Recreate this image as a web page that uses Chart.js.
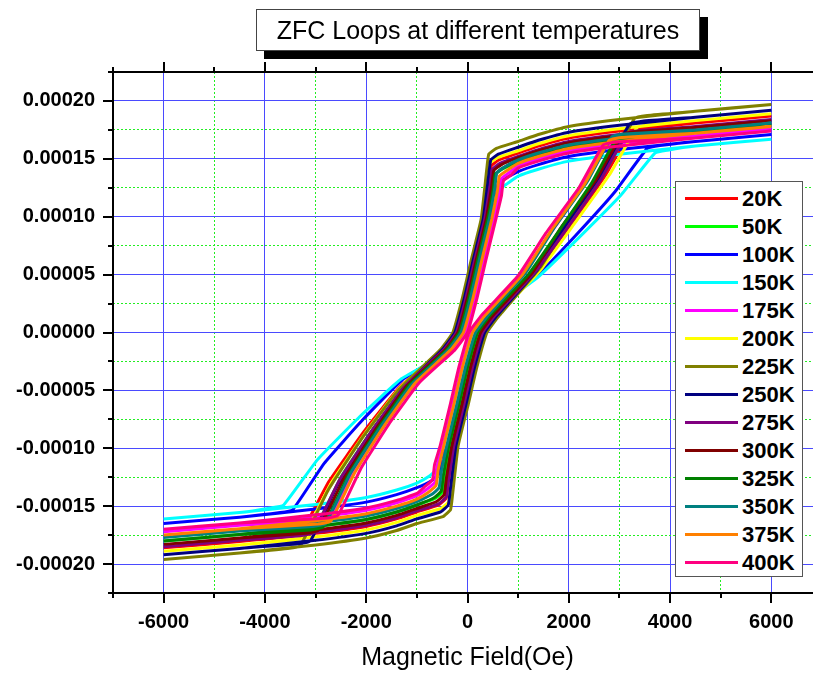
<!DOCTYPE html>
<html>
<head>
<meta charset="utf-8">
<title>ZFC Loops at different temperatures</title>
<script src="https://cdn.jsdelivr.net/npm/chart.js@4.4.1/dist/chart.umd.min.js"></script>
<style>
    html, body { margin: 0; padding: 0; background: #fff; overflow: hidden; }
    #wrap { position: relative; width: 813px; height: 673px; overflow: hidden; }
    #zfcChart { position: absolute; left: 0; top: 0; }
    #chartTitle {
        position: absolute; left: 256px; top: 9px; width: 442px; height: 40px;
        border: 1px solid #444; background: #fff; box-shadow: 8px 8px 0 #000;
        font: 25px "Liberation Sans", Arial, sans-serif; color: #000;
        text-align: center; line-height: 40px;
    }
    #chartLegend {
        position: absolute; left: 675px; top: 181px; width: 126px; height: 394px;
        border: 1px solid #555; background: #fff;
        font: bold 22px "Liberation Sans", Arial, sans-serif; color: #000;
    }
    .legend-row { position: absolute; left: 0; height: 28px; width: 126px; }
    .legend-line { position: absolute; left: 9px; top: 12px; width: 53px; height: 3px; }
    .legend-text { position: absolute; left: 66px; top: 0; line-height: 28px; }
</style>
</head>
<body>
<div id="wrap">
    <canvas id="zfcChart" width="840" height="673"></canvas>
    <div id="chartTitle">ZFC Loops at different temperatures</div>
    <div id="chartLegend"></div>
</div>
<script>
(function () {
    'use strict';

    // Temperatures (legend labels)
    var temperatures = ['20K', '50K', '100K', '150K', '175K', '200K', '225K',
        '250K', '275K', '300K', '325K', '350K', '375K', '400K'];

    // Loops: [field (Oe), moment (x1e-5 emu)]
    // first half is the branch from +6000 down to -6000, second half goes back up
    var loop20K = [[6000,18.7],[4500,18.1],[3000,17.4],[2000,16.8],[1400,16.1],[1000,15.5],[620,14.9],[470,14.4],[430,13.1],[320,9.8],[120,6.2],[-50,3.0],[-240,0],[-490,-1.5],[-1335,-4.7],[-2035,-8.5],[-2740,-12.9],[-3300,-17.4],[-3550,-17.65],[-4500,-18.05],[-6000,-18.6],
        [-4500,-18.05],[-3000,-17.35],[-2000,-16.75],[-1400,-16.1],[-1000,-15.5],[-570,-14.9],[-420,-14.3],[-380,-13.0],[-270,-9.8],[-70,-6.2],[100,-3.0],[300,0],[550,1.5],[1360,5.3],[2035,9.3],[2710,13.5],[3250,17.5],[3500,17.75],[4500,18.1],[6000,18.7]];
    var loop50K = [[6000,17.9],[4500,17.3],[3000,16.6],[2000,16.0],[1400,15.3],[1000,14.7],[680,14.1],[530,13.6],[490,12.3],[380,9.8],[180,6.2],[10,3.0],[-180,0],[-430,-1.5],[-1200,-4.5],[-1845,-8.2],[-2485,-12.4],[-3000,-16.8],[-3250,-17.05],[-4500,-17.45],[-6000,-18.0],
        [-4500,-17.45],[-3000,-16.75],[-2000,-16.15],[-1400,-15.5],[-1000,-14.9],[-630,-14.3],[-480,-13.7],[-440,-12.4],[-330,-9.8],[-130,-6.2],[40,-3.0],[240,0],[490,1.5],[1245,5.0],[1870,8.9],[2500,12.9],[3000,16.7],[3250,16.95],[4500,17.3],[6000,17.9]];
    var loop100K = [[6000,17.1],[4500,16.5],[3000,15.8],[2000,15.2],[1400,14.5],[1000,13.9],[750,13.3],[600,12.8],[560,11.5],[450,9.8],[250,6.2],[80,3.0],[-110,0],[-360,-1.5],[-1290,-4.1],[-2060,-7.5],[-2830,-11.3],[-3450,-15.3],[-3700,-15.55],[-4500,-15.95],[-6000,-16.5],
        [-4500,-15.95],[-3000,-15.25],[-2000,-14.65],[-1400,-14.0],[-1000,-13.4],[-710,-12.8],[-560,-12.2],[-520,-10.9],[-410,-9.8],[-210,-6.2],[-40,-3.0],[160,0],[410,1.5],[1350,4.8],[2140,8.4],[2920,12.2],[3550,15.9],[3800,16.15],[4500,16.5],[6000,17.1]];
    var loop150K = [[6000,16.7],[4500,16.1],[3000,15.4],[2000,14.8],[1400,14.1],[1000,13.5],[800,12.9],[650,12.4],[610,11.1],[500,9.8],[300,6.2],[130,3.0],[-60,0],[-310,-1.5],[-1305,-4.0],[-2135,-7.3],[-2965,-11.0],[-3630,-14.9],[-3880,-15.15],[-4500,-15.55],[-6000,-16.1],
        [-4500,-15.55],[-3000,-14.85],[-2000,-14.25],[-1400,-13.6],[-1000,-13.0],[-750,-12.4],[-600,-11.8],[-560,-10.5],[-450,-9.8],[-250,-6.2],[-80,-3.0],[120,0],[370,1.5],[1370,4.7],[2200,8.2],[3035,11.9],[3700,15.5],[3950,15.75],[4500,16.1],[6000,16.7]];
    var loop175K = [[6000,17.6],[4500,17.0],[3000,16.3],[2000,15.7],[1400,15.0],[1000,14.4],[820,13.8],[670,13.3],[630,12.0],[520,9.8],[320,6.2],[150,3.0],[-40,0],[-290,-1.5],[-1015,-4.3],[-1615,-7.8],[-2220,-11.8],[-2700,-16.0],[-2950,-16.25],[-4500,-16.65],[-6000,-17.2],
        [-4500,-16.65],[-3000,-15.95],[-2000,-15.35],[-1400,-14.7],[-1000,-14.1],[-790,-13.5],[-640,-12.9],[-600,-11.6],[-490,-9.8],[-290,-6.2],[-120,-3.0],[80,0],[330,1.5],[1055,4.9],[1660,8.7],[2265,12.6],[2750,16.4],[3000,16.65],[4500,17.0],[6000,17.6]];
    var loop200K = [[6000,18.9],[4500,18.3],[3000,17.6],[2000,17.0],[1400,16.3],[1000,15.7],[590,15.1],[440,14.6],[400,13.3],[290,9.8],[90,6.2],[-80,3.0],[-270,0],[-520,-1.5],[-1340,-4.8],[-2020,-8.7],[-2705,-13.1],[-3250,-17.7],[-3500,-17.95],[-4500,-18.35],[-6000,-18.9],
        [-4500,-18.35],[-3000,-17.65],[-2000,-17.05],[-1400,-16.4],[-1000,-15.8],[-520,-15.2],[-370,-14.6],[-330,-13.3],[-220,-9.8],[-20,-6.2],[150,-3.0],[350,0],[600,1.5],[1425,5.3],[2110,9.4],[2800,13.6],[3350,17.7],[3600,17.95],[4500,18.3],[6000,18.9]];
    var loop225K = [[6000,19.7],[4500,19.1],[3000,18.4],[2000,17.8],[1400,17.1],[1000,16.5],[570,15.9],[420,15.4],[380,14.1],[270,9.8],[70,6.2],[-100,3.0],[-290,0],[-540,-1.5],[-1370,-5.0],[-2060,-9.0],[-2750,-13.6],[-3300,-18.4],[-3550,-18.65],[-4500,-19.05],[-6000,-19.6],
        [-4500,-19.05],[-3000,-18.35],[-2000,-17.75],[-1400,-17.1],[-1000,-16.5],[-485,-15.9],[-335,-15.3],[-295,-14.0],[-185,-9.8],[15,-6.2],[185,-3.0],[385,0],[635,1.5],[1435,5.6],[2045,9.8],[2765,14.2],[3300,18.5],[3550,18.75],[4500,19.1],[6000,19.7]];
    var loop250K = [[6000,19.2],[4500,18.6],[3000,17.9],[2000,17.3],[1400,16.6],[1000,16.0],[610,15.4],[460,14.9],[420,13.6],[310,9.8],[110,6.2],[-60,3.0],[-250,0],[-500,-1.5],[-1280,-4.9],[-1930,-8.8],[-2580,-13.3],[-3100,-18.0],[-3350,-18.25],[-4500,-18.65],[-6000,-19.2],
        [-4500,-18.65],[-3000,-17.95],[-2000,-17.35],[-1400,-16.7],[-1000,-16.1],[-530,-15.5],[-380,-14.9],[-340,-13.6],[-230,-9.8],[-30,-6.2],[140,-3.0],[340,0],[590,1.5],[1375,5.4],[1975,9.5],[2680,13.9],[3200,18.0],[3450,18.25],[4500,18.6],[6000,19.2]];
    var loop275K = [[6000,18.4],[4500,17.8],[3000,17.1],[2000,16.5],[1400,15.8],[1000,15.2],[640,14.6],[490,14.1],[450,12.8],[340,9.8],[140,6.2],[-30,3.0],[-220,0],[-470,-1.5],[-1245,-4.7],[-1890,-8.5],[-2535,-12.8],[-3050,-17.3],[-3300,-17.55],[-4500,-17.95],[-6000,-18.5],
        [-4500,-17.95],[-3000,-17.25],[-2000,-16.65],[-1400,-16.0],[-1000,-15.4],[-570,-14.8],[-420,-14.2],[-380,-12.9],[-270,-9.8],[-70,-6.2],[100,-3.0],[300,0],[550,1.5],[1330,5.2],[1980,9.1],[2630,13.2],[3150,17.2],[3400,17.45],[4500,17.8],[6000,18.4]];
    var loop300K = [[6000,18.3],[4500,17.7],[3000,17.0],[2000,16.4],[1400,15.7],[1000,15.1],[670,14.5],[520,14.0],[480,12.7],[370,9.8],[170,6.2],[0,3.0],[-190,0],[-440,-1.5],[-1195,-4.6],[-1820,-8.4],[-2450,-12.7],[-2950,-17.1],[-3200,-17.35],[-4500,-17.75],[-6000,-18.3],
        [-4500,-17.75],[-3000,-17.05],[-2000,-16.45],[-1400,-15.8],[-1000,-15.2],[-610,-14.6],[-460,-14.0],[-420,-12.7],[-310,-9.8],[-110,-6.2],[60,-3.0],[260,0],[510,1.5],[1270,5.1],[1855,9.1],[2540,13.2],[3050,17.1],[3300,17.35],[4500,17.7],[6000,18.3]];
    var loop325K = [[6000,18.0],[4500,17.4],[3000,16.7],[2000,16.1],[1400,15.4],[1000,14.8],[700,14.2],[550,13.7],[510,12.4],[400,9.8],[200,6.2],[30,3.0],[-160,0],[-410,-1.5],[-1140,-4.5],[-1750,-8.2],[-2360,-12.4],[-2850,-16.8],[-3100,-17.05],[-4500,-17.45],[-6000,-18.0],
        [-4500,-17.45],[-3000,-16.75],[-2000,-16.15],[-1400,-15.5],[-1000,-14.9],[-670,-14.3],[-520,-13.7],[-480,-12.4],[-370,-9.8],[-170,-6.2],[0,-3.0],[200,0],[450,1.5],[1200,5.0],[1825,8.9],[2450,12.9],[2950,16.8],[3200,17.05],[4500,17.4],[6000,18.0]];
    var loop350K = [[6000,18.1],[4500,17.5],[3000,16.8],[2000,16.2],[1400,15.5],[1000,14.9],[730,14.3],[580,13.8],[540,12.5],[430,9.8],[230,6.2],[60,3.0],[-130,0],[-380,-1.5],[-1105,-4.5],[-1710,-8.1],[-2315,-12.2],[-2800,-16.5],[-3050,-16.75],[-4500,-17.15],[-6000,-17.7],
        [-4500,-17.15],[-3000,-16.45],[-2000,-15.85],[-1400,-15.2],[-1000,-14.6],[-710,-14.0],[-560,-13.4],[-520,-12.1],[-410,-9.8],[-210,-6.2],[-40,-3.0],[160,0],[410,1.5],[1140,5.1],[1705,9.0],[2360,13.0],[2850,16.9],[3100,17.15],[4500,17.5],[6000,18.1]];
    var loop375K = [[6000,17.8],[4500,17.2],[3000,16.5],[2000,15.9],[1400,15.2],[1000,14.6],[780,14.0],[630,13.5],[590,12.2],[480,9.8],[280,6.2],[110,3.0],[-80,0],[-330,-1.5],[-1040,-4.4],[-1635,-8.0],[-2225,-12.1],[-2700,-16.3],[-2950,-16.55],[-4500,-16.95],[-6000,-17.5],
        [-4500,-16.95],[-3000,-16.25],[-2000,-15.65],[-1400,-15.0],[-1000,-14.4],[-770,-13.8],[-620,-13.2],[-580,-11.9],[-470,-9.8],[-270,-6.2],[-100,-3.0],[100,0],[350,1.5],[1085,5.0],[1650,8.8],[2310,12.8],[2800,16.6],[3050,16.85],[4500,17.2],[6000,17.8]];
    var loop400K = [[6000,17.4],[4500,16.8],[3000,16.1],[2000,15.5],[1400,14.8],[1000,14.2],[860,13.6],[710,13.1],[670,11.8],[560,9.8],[360,6.2],[190,3.0],[0,0],[-250,-1.5],[-945,-4.3],[-1520,-7.7],[-2100,-11.7],[-2560,-15.8],[-2810,-16.05],[-4500,-16.45],[-6000,-17.0],
        [-4500,-16.45],[-3000,-15.75],[-2000,-15.15],[-1400,-14.5],[-1000,-13.9],[-840,-13.3],[-690,-12.7],[-650,-11.4],[-540,-9.8],[-340,-6.2],[-170,-3.0],[30,0],[280,1.5],[1000,4.9],[1550,8.6],[2200,12.5],[2680,16.2],[2930,16.45],[4500,16.8],[6000,17.4]];

    var loops = [loop20K, loop50K, loop100K, loop150K, loop175K, loop200K, loop225K,
        loop250K, loop275K, loop300K, loop325K, loop350K, loop375K, loop400K];

    // Line colours, same order as temperatures
    var lineColors = ['#ff0000', '#00ff00', '#0000ff', '#00ffff', '#ff00ff', '#ffff00', '#808000',
        '#000080', '#800080', '#800000', '#008000', '#008080', '#ff8000', '#ff0080'];

    var FONT = '"Liberation Sans", Arial, sans-serif';
    var MAJOR_GRID = '#4a4aff';
    var MINOR_GRID = '#22ee22';

    // Build datasets
    var datasets = temperatures.map(function (t, i) {
        return {
            label: t,
            data: loops[i].map(function (p) { return { x: p[0], y: p[1] }; }),
            borderColor: lineColors[i],
            backgroundColor: lineColors[i],
            borderWidth: 3,
            pointRadius: 0,
            fill: false,
            tension: 0.12,
            order: -i
        };
    });

    function isMajorX(v) { return Math.round(v) % 2000 === 0; }
    function isMajorY(v) { return Math.abs(Math.round(v / 2.5)) % 2 === 0; }

    // Frame and tick marks on left, top and bottom edges
    var frameTicks = {
        id: 'frameTicks',
        afterDraw: function (chart) {
            var ctx = chart.ctx;
            var a = chart.chartArea;
            var xs = chart.scales.x;
            var ys = chart.scales.y;
            ctx.save();
            ctx.strokeStyle = '#000';
            ctx.lineWidth = 2;
            ctx.beginPath();
            ctx.moveTo(a.right + 1, a.top);
            ctx.lineTo(a.left, a.top);
            ctx.lineTo(a.left, a.bottom);
            ctx.lineTo(a.right + 1, a.bottom);
            ctx.stroke();

            ctx.beginPath();
            xs.ticks.forEach(function (t) {
                var px = Math.round(xs.getPixelForValue(t.value));
                var len = isMajorX(t.value) ? 10 : 5;
                ctx.moveTo(px, a.bottom);
                ctx.lineTo(px, a.bottom + len);
                ctx.moveTo(px, a.top);
                ctx.lineTo(px, a.top - len);
            });
            ys.ticks.forEach(function (t) {
                var py = Math.round(ys.getPixelForValue(t.value));
                var len = isMajorY(t.value) ? 10 : 5;
                ctx.moveTo(a.left, py);
                ctx.lineTo(a.left - len, py);
            });
            ctx.stroke();
            ctx.restore();
        }
    };

    var ctx = document.getElementById('zfcChart').getContext('2d');
    var zfcChart = new Chart(ctx, {
        type: 'line',
        data: { datasets: datasets },
        options: {
            responsive: false,
            animation: false,
            devicePixelRatio: 1,
            layout: { padding: { left: 0, top: 72, right: 18, bottom: 0 } },
            plugins: {
                legend: { display: false },
                tooltip: { enabled: false }
            },
            scales: {
                x: {
                    type: 'linear',
                    min: -7000,
                    max: 7000,
                    afterFit: function (scale) { scale.height = 80; },
                    ticks: {
                        stepSize: 1000,
                        maxTicksLimit: 100,
                        autoSkip: false,
                        maxRotation: 0,
                        padding: 17,
                        color: '#000',
                        font: { family: FONT, size: 20, weight: 'bold' },
                        callback: function (v) {
                            if (Math.abs(v) === 7000 || !isMajorX(v)) { return ''; }
                            return String(v);
                        }
                    },
                    grid: {
                        drawTicks: false,
                        lineWidth: 1,
                        color: function (c) {
                            var v = c.tick ? c.tick.value : 0;
                            if (Math.abs(v) === 7000) { return 'rgba(0,0,0,0)'; }
                            return isMajorX(v) ? MAJOR_GRID : MINOR_GRID;
                        }
                    },
                    border: {
                        display: false,
                        dash: function (c) {
                            var v = c.tick ? c.tick.value : 0;
                            return isMajorX(v) ? [] : [2, 2];
                        }
                    },
                    title: {
                        display: true,
                        text: 'Magnetic Field(Oe)',
                        color: '#000',
                        padding: { top: 0, bottom: 0 },
                        font: { family: FONT, size: 25, weight: 'normal' }
                    }
                },
                y: {
                    type: 'linear',
                    min: -22.5,
                    max: 22.5,
                    afterFit: function (scale) { scale.width = 113; },
                    ticks: {
                        stepSize: 2.5,
                        maxTicksLimit: 100,
                        autoSkip: false,
                        padding: 18,
                        color: '#000',
                        font: { family: FONT, size: 20, weight: 'bold' },
                        callback: function (v) {
                            if (Math.abs(v) > 22 || !isMajorY(v)) { return ''; }
                            var m = Math.round(v * 10) / 10 * 1e-5;
                            if (Math.abs(m) < 1e-9) { m = 0; }
                            return m.toFixed(5);
                        }
                    },
                    grid: {
                        drawTicks: false,
                        lineWidth: 1,
                        color: function (c) {
                            var v = c.tick ? c.tick.value : 0;
                            if (Math.abs(v) > 22) { return 'rgba(0,0,0,0)'; }
                            return isMajorY(v) ? MAJOR_GRID : MINOR_GRID;
                        }
                    },
                    border: {
                        display: false,
                        dash: function (c) {
                            var v = c.tick ? c.tick.value : 0;
                            return isMajorY(v) ? [] : [2, 2];
                        }
                    }
                }
            }
        },
        plugins: [frameTicks]
    });

    // Legend box drawn inside the plot, as in the original figure
    var legend = document.getElementById('chartLegend');
    temperatures.forEach(function (t, i) {
        var row = document.createElement('div');
        row.className = 'legend-row';
        row.style.top = (3 + i * 28) + 'px';
        var line = document.createElement('span');
        line.className = 'legend-line';
        line.style.background = lineColors[i];
        var text = document.createElement('span');
        text.className = 'legend-text';
        text.textContent = t;
        row.appendChild(line);
        row.appendChild(text);
        legend.appendChild(row);
    });
})();
</script>
</body>
</html>
